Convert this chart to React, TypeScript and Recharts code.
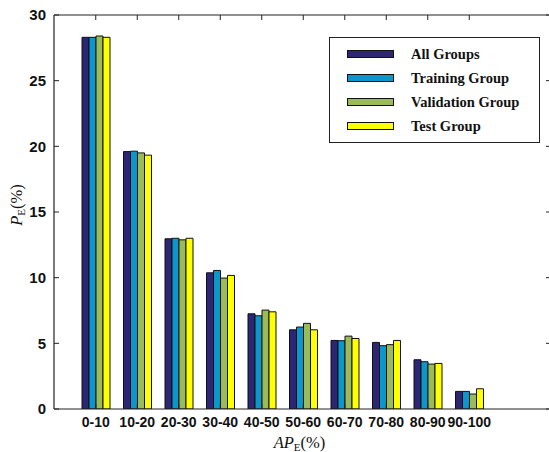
import React from 'react';
import { BarChart, Bar, XAxis, YAxis, Legend, Label } from 'recharts';

const categories = ['0-10', '10-20', '20-30', '30-40', '40-50', '50-60', '60-70', '70-80', '80-90', '90-100'];
const allGroups = [28.3, 19.6, 12.96, 10.37, 7.25, 6.03, 5.22, 5.07, 3.75, 1.34];
const trainingGroup = [28.3, 19.63, 13.0, 10.55, 7.1, 6.24, 5.2, 4.82, 3.6, 1.34];
const validationGroup = [28.4, 19.5, 12.88, 9.97, 7.53, 6.52, 5.55, 4.9, 3.42, 1.14];
const testGroup = [28.3, 19.33, 13.0, 10.17, 7.4, 6.03, 5.37, 5.22, 3.47, 1.54];
const seriesNames = ['All Groups', 'Training Group', 'Validation Group', 'Test Group'];
const yTicks = [0, 5, 10, 15, 20, 25, 30];

const data = categories.map((cat, i) => ({
  cat,
  all: allGroups[i],
  training: trainingGroup[i],
  validation: validationGroup[i],
  test: testGroup[i],
}));

const AXIS = '#222';
const SERIF = '"Liberation Serif", "Times New Roman", serif';
const SANS = '"Liberation Sans", Arial, sans-serif';
const PAD = { left: 21, right: 61 };

const renderLegend = (props: any) => {
  const payload = [...(props.payload || [])].sort(
    (a: any, b: any) => seriesNames.indexOf(a.value) - seriesNames.indexOf(b.value)
  );
  return (
    <div
      style={{
        border: '1.3px solid #222',
        background: '#fff',
        width: 209,
        height: 100,
        boxSizing: 'content-box',
        paddingTop: 4,
      }}
    >
      {payload.map((p: any) => (
        <div key={p.value} style={{ display: 'flex', alignItems: 'center', height: 24 }}>
          <div
            style={{
              marginLeft: 17,
              width: 45,
              height: 6,
              background: p.color,
              border: '1px solid #111',
            }}
          />
          <span
            style={{
              marginLeft: 17,
              fontFamily: SERIF,
              fontWeight: 'bold',
              fontSize: 14.5,
              color: '#111',
            }}
          >
            {p.value}
          </span>
        </div>
      ))}
    </div>
  );
};

const XLabel = (props: any) => {
  const vb = props.viewBox || {};
  const cx = vb.x + vb.width / 2 - 3;
  return (
    <text x={cx} y={448} textAnchor="middle" fontFamily={SERIF} fontSize={16.5} fill="#111">
      <tspan fontStyle="italic">AP</tspan>
      <tspan fontSize={11} dy={3}>E</tspan>
      <tspan dy={-3}>(%)</tspan>
    </text>
  );
};

const YLabel = (props: any) => {
  const vb = props.viewBox || {};
  const cx = 22;
  const cy = vb.y + vb.height / 2 - 7;
  return (
    <text
      x={cx}
      y={cy}
      textAnchor="middle"
      transform={`rotate(-90, ${cx}, ${cy})`}
      fontFamily={SERIF}
      fontSize={16.5}
      fill="#111"
    >
      <tspan fontStyle="italic">P</tspan>
      <tspan fontSize={11} dy={3}>E</tspan>
      <tspan dy={-3}>(%)</tspan>
    </text>
  );
};

const EmptyTick = () => <g />;

export default function App() {
  return (
    <div
      style={{
        position: 'absolute',
        left: 0,
        top: 0,
        width: 549,
        height: 452,
        overflow: 'hidden',
        background: '#fff',
      }}
    >
      <BarChart
        width={561}
        height={452}
        data={data}
        margin={{ top: 0, right: 0, bottom: 0, left: 0 }}
        barGap={0}
        barSize={7}
      >
        <XAxis
          xAxisId="bottom"
          dataKey="cat"
          orientation="bottom"
          height={43}
          padding={PAD}
          axisLine={{ stroke: AXIS, strokeWidth: 1.2 }}
          tickLine={{ stroke: AXIS }}
          tickSize={-5}
          tickMargin={13}
          interval={0}
          tick={{ fontFamily: SANS, fontWeight: 'bold', fontSize: 14, fill: '#111' }}
        >
          <Label content={<XLabel />} />
        </XAxis>
        <XAxis
          xAxisId="top"
          dataKey="cat"
          orientation="top"
          height={15}
          padding={PAD}
          axisLine={{ stroke: AXIS, strokeWidth: 1.2 }}
          tickLine={{ stroke: AXIS }}
          tickSize={-5}
          interval={0}
          tick={EmptyTick}
        />
        <YAxis
          yAxisId="left"
          orientation="left"
          width={54}
          domain={[0, 30]}
          ticks={yTicks}
          allowDataOverflow
          axisLine={{ stroke: AXIS, strokeWidth: 1.2 }}
          tickLine={{ stroke: AXIS }}
          tickSize={-5}
          tickMargin={13}
          tick={{ fontFamily: SANS, fontWeight: 'bold', fontSize: 15, fill: '#111' }}
        >
          <Label content={<YLabel />} />
        </YAxis>
        <YAxis
          yAxisId="right"
          dataKey="all"
          orientation="right"
          width={10}
          domain={[0, 30]}
          ticks={yTicks}
          allowDataOverflow
          axisLine={{ stroke: AXIS, strokeWidth: 1.2 }}
          tickLine={{ stroke: AXIS }}
          tickSize={-5}
          tick={EmptyTick}
        />
        <Legend
          layout="vertical"
          align="center"
          verticalAlign="middle"
          content={renderLegend}
          wrapperStyle={{ position: 'absolute', left: 329, top: 37, width: 'auto' }}
        />
        <Bar xAxisId="bottom" yAxisId="left" dataKey="all" name="All Groups" fill="#2C2674" stroke="#111" strokeWidth={1} isAnimationActive={false} />
        <Bar xAxisId="bottom" yAxisId="left" dataKey="training" name="Training Group" fill="#0B97CC" stroke="#111" strokeWidth={1} isAnimationActive={false} />
        <Bar xAxisId="bottom" yAxisId="left" dataKey="validation" name="Validation Group" fill="#9BBB59" stroke="#111" strokeWidth={1} isAnimationActive={false} />
        <Bar xAxisId="bottom" yAxisId="left" dataKey="test" name="Test Group" fill="#FFFF00" stroke="#111" strokeWidth={1} isAnimationActive={false} />
      </BarChart>
    </div>
  );
}
